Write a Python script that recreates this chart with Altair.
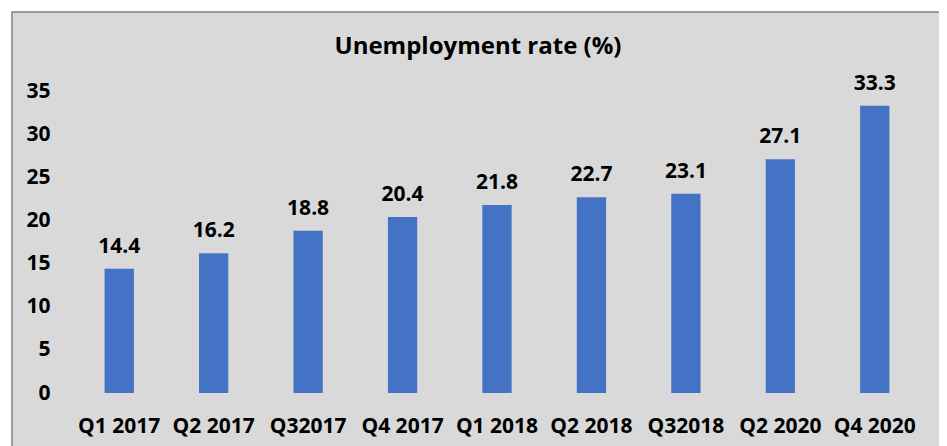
import altair as alt
import pandas as pd

quarters = ["Q1 2017", "Q2 2017", "Q32017", "Q4 2017", "Q1 2018", "Q2 2018", "Q32018", "Q2 2020", "Q4 2020"]
rates = [14.4, 16.2, 18.8, 20.4, 21.8, 22.7, 23.1, 27.1, 33.3]
y_ticks = [0, 5, 10, 15, 20, 25, 30, 35]
title_text = "Unemployment rate (%)"

df = pd.DataFrame({"q": quarters, "r": rates})
FONT = "Open Sans"
W, H = 850, 302

bg = alt.Chart(pd.DataFrame({"a": [0]})).mark_rect(
    fill="#d9d9d9", stroke="#808080", strokeWidth=1.5
).encode(
    x=alt.value(-60), x2=alt.value(869), y=alt.value(-79), y2=alt.value(370)
)

x_enc = alt.X("q:N", sort=quarters, title=None,
              scale=alt.Scale(paddingInner=0.69, paddingOuter=0.345),
              axis=alt.Axis(labelAngle=0, labelFont=FONT, labelFontSize=21, labelFontWeight="bold",
                            labelColor="#000000", ticks=False, domain=False, labelPadding=22,
                            zindex=2))
y_enc = alt.Y("r:Q", title=None, scale=alt.Scale(domain=[0, 35], nice=False),
              axis=alt.Axis(values=y_ticks, labelFont=FONT, labelFontSize=21, labelFontWeight="bold",
                            labelColor="#000000", ticks=False, domain=False, grid=False, labelPadding=22,
                            zindex=2))

bars = alt.Chart(df).mark_bar(color="#4472c4").encode(x=x_enc, y=y_enc)
labels = alt.Chart(df).mark_text(
    font=FONT, fontSize=21, fontWeight="bold", color="#000000", baseline="alphabetic", dy=-16
).encode(x=alt.X("q:N", sort=quarters), y="r:Q", text=alt.Text("r:Q", format=".1f"))

title = alt.Chart(pd.DataFrame({"t": [title_text]})).mark_text(
    font=FONT, fontSize=24, fontWeight="bold", color="#000000", baseline="alphabetic", align="center"
).encode(x=alt.value(406), y=alt.value(-37), text="t:N")

chart = alt.layer(bg, bars, labels, title).properties(
    width=W, height=H, background="#ffffff",
    padding={"left": 64, "top": 83, "right": 17, "bottom": 53},
    autosize=alt.AutoSizeParams(type="none")
).configure_view(stroke=None)

chart.save("out.html", embed_options={"renderer": "svg", "actions": False})
